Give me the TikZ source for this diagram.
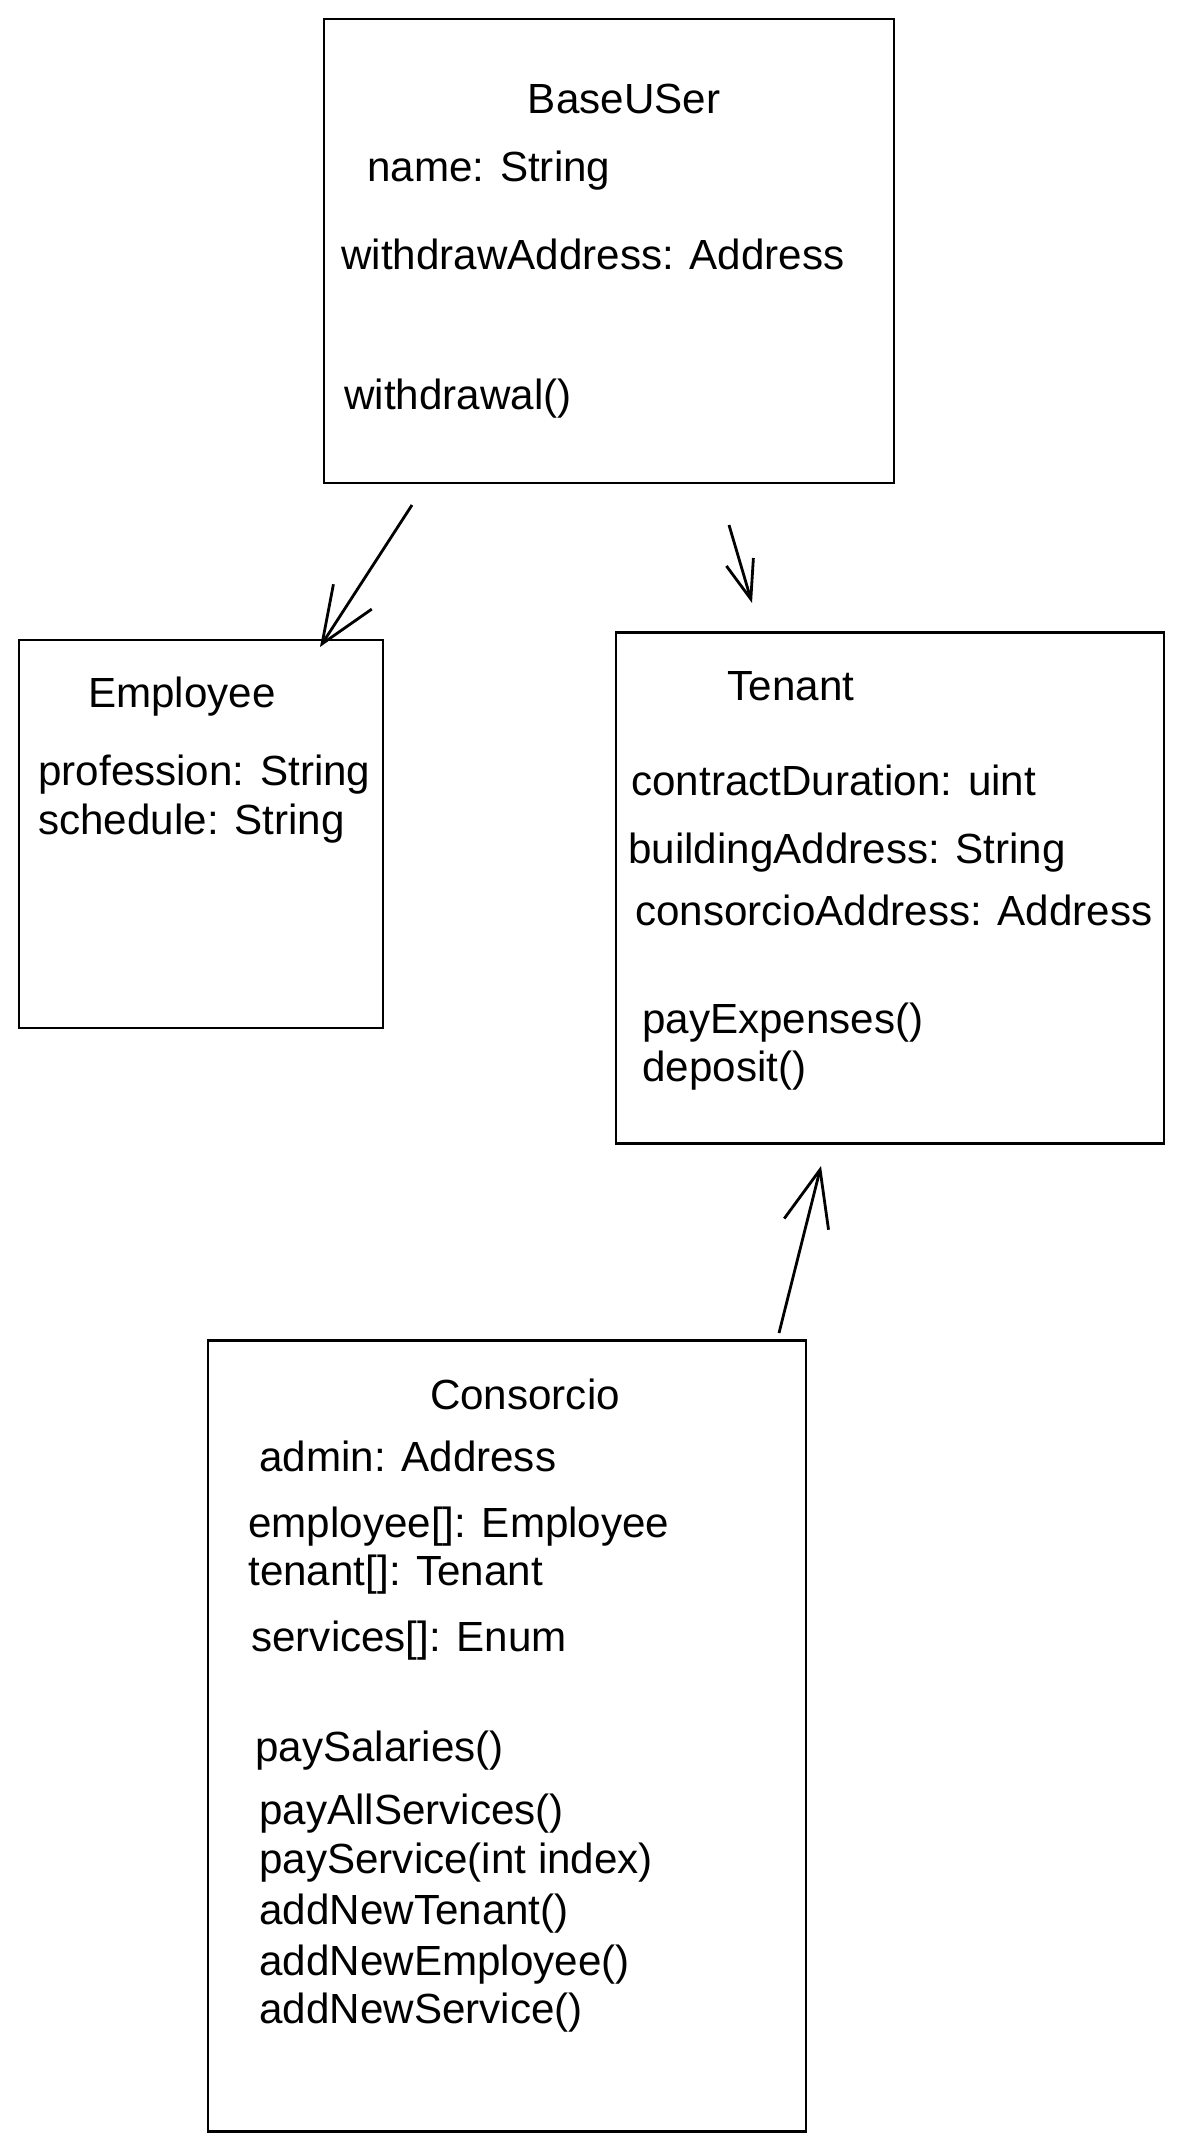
\documentclass[tikz,border=0pt]{standalone}
\usepackage{fontspec}
\setmainfont{Liberation Sans}
\usetikzlibrary{arrows.meta}

\begin{document}
\begin{tikzpicture}[x=0.02cm,y=-0.02cm,
	box/.style={draw,line width=1.6pt,inner sep=0pt},
	txt/.style={anchor=west,inner sep=0pt,font=\fontsize{24}{28}\selectfont},
	ttl/.style={inner sep=0pt,font=\fontsize{24}{28}\selectfont},
	inh/.style={-{Straight Barb[length=32pt,width=26pt]},line width=1.6pt}]
	\useasboundingbox (0,0) rectangle (1182,2151);

	% BaseUSer
	\node[box,minimum width=11.4cm,minimum height=9.28cm] at (609,251) (base) {};
	\node[ttl] at (624,99) (baseT) {BaseUSer};
	\node[txt] at (367,171) (baseA) {name: String};
	\node[txt] at (341,254) (baseB) {withdrawAddress: Address};
	\node[txt] at (344,399) (baseM) {withdrawal()};

	% Employee
	\node[box,minimum width=7.28cm,minimum height=7.76cm] at (201,834) (emp) {};
	\node[ttl] at (182,697) (empT) {Employee};
	\node[txt] at (38,775) (empA) {profession: String};
	\node[txt] at (38,824) (empB) {schedule: String};

	% Tenant
	\node[box,minimum width=10.96cm,minimum height=10.22cm] at (890,888) (ten) {};
	\node[ttl] at (791,686) (tenT) {Tenant};
	\node[txt] at (631,780) (tenA) {contractDuration: uint};
	\node[txt] at (628,853) (tenB) {buildingAddress: String};
	\node[txt] at (635,910) (tenC) {consorcioAddress: Address};
	\node[txt] at (642,1023) (tenM) {payExpenses()};
	\node[txt] at (642,1071) (tenN) {deposit()};

	% Consorcio
	\node[box,minimum width=11.96cm,minimum height=15.82cm] at (507,1736) (cons) {};
	\node[ttl] at (525,1394) (consT) {Consorcio};
	\node[txt] at (259,1456) (consA) {admin: Address};
	\node[txt] at (248,1527) (consB) {employee[]: Employee};
	\node[txt] at (248,1575) (consC) {tenant[]: Tenant};
	\node[txt] at (251,1641) (consD) {services[]: Enum};
	\node[txt] at (255,1751) (consM) {paySalaries()};
	\node[txt] at (259,1814) (consN) {payAllServices()};
	\node[txt] at (259,1863) (consO) {payService(int index)};
	\node[txt] at (259,1914) (consP) {addNewTenant()};
	\node[txt] at (259,1965) (consQ) {addNewEmployee()};
	\node[txt] at (259,2013) (consR) {addNewService()};

	% arrows
	\coordinate (b2e) at (412,505);
	\coordinate (e1) at (320,647);
	\coordinate (b2t) at (729,525);
	\coordinate (t1) at (752,603);
	\coordinate (c2t) at (779,1333);
	\coordinate (t2) at (821,1166);
	\draw[inh] (b2e) -- (e1);
	\draw[inh,-{Straight Barb[length=22pt,width=16pt]}] (b2t) -- (t1);
	\draw[inh] (c2t) -- (t2);
\end{tikzpicture}
\end{document}
